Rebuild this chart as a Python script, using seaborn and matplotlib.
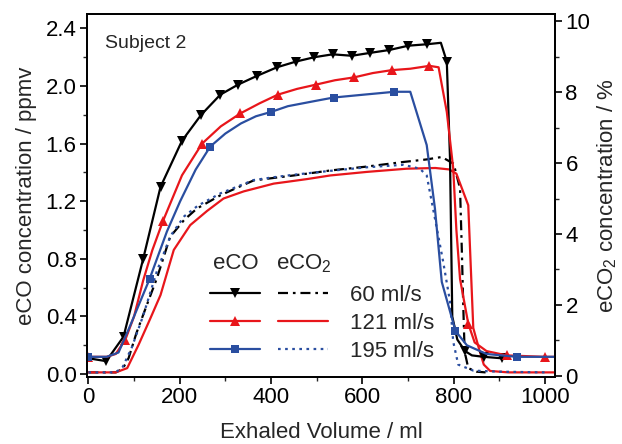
"""eCO and eCO2 exhalation profiles at three flow rates (Subject 2)."""

import matplotlib
matplotlib.use("Agg")
import matplotlib.pyplot as plt
from matplotlib.lines import Line2D
from matplotlib.legend_handler import HandlerTuple
from matplotlib.ticker import MultipleLocator, FormatStrFormatter
import seaborn as sns

sns.set_style("ticks")
plt.rcParams["font.family"] = ["Liberation Sans", "DejaVu Sans"]
plt.rcParams["mathtext.fontset"] = "custom"
plt.rcParams["mathtext.rm"] = "Liberation Sans"

BLACK, RED, BLUE = "#000000", "#e8161b", "#2a4ea0"
FS = 16

# ---- eCO (ppmv), left axis ------------------------------------------------
co60_x = [0, 39, 77, 120, 158, 205, 247, 289, 328, 369, 413, 455, 495, 535,
          577, 617, 659, 701, 742, 772, 785, 792, 797, 808, 825, 840, 866,
          905, 920]
co60_y = [0.11, 0.09, 0.26, 0.80, 1.30, 1.62, 1.80, 1.94, 2.01, 2.07, 2.13,
          2.17, 2.20, 2.22, 2.21, 2.23, 2.25, 2.28, 2.29, 2.30, 2.17, 1.50,
          0.40, 0.24, 0.16, 0.13, 0.12, 0.11, 0.11]
co60_marks = [1, 2, 3, 4, 5, 6, 7, 8, 9, 10, 11, 12, 13, 14, 15, 16, 17, 18,
              20, 24, 26, 27]

co121_x = [0, 40, 60, 81, 100, 120, 140, 163, 205, 249, 290, 333, 375, 415,
           457, 499, 540, 582, 623, 664, 705, 747, 767, 785, 799, 806, 814,
           832, 846, 872, 916, 1000, 1022]
co121_y = [0.12, 0.12, 0.14, 0.24, 0.40, 0.65, 0.86, 1.06, 1.38, 1.60, 1.72,
           1.81, 1.88, 1.94, 1.98, 2.01, 2.04, 2.06, 2.09, 2.11, 2.12, 2.14,
           2.13, 1.82, 1.43, 1.00, 0.66, 0.35, 0.22, 0.16, 0.13, 0.12, 0.12]
co121_marks = [0, 3, 7, 9, 11, 13, 15, 17, 19, 21, 27, 30, 31]

co195_x = [0, 40, 66, 92, 134, 172, 201, 235, 267, 300, 334, 367, 400, 437,
           470, 503, 537, 570, 603, 637, 670, 705, 741, 759, 774, 804, 829,
           872, 938, 1022]
co195_y = [0.12, 0.12, 0.15, 0.34, 0.66, 0.99, 1.20, 1.42, 1.58, 1.67, 1.74,
           1.79, 1.82, 1.86, 1.88, 1.90, 1.92, 1.93, 1.94, 1.95, 1.96, 1.96,
           1.59, 1.15, 0.64, 0.30, 0.20, 0.14, 0.12, 0.12]
co195_marks = [0, 4, 8, 12, 16, 20, 25, 28]

# ---- eCO2 (%), right axis -------------------------------------------------
co2_60_x = [0, 60, 75, 88, 105, 128, 150, 179, 210, 238, 289, 325, 362, 406,
            450, 490, 530, 610, 690, 740, 774, 800, 814, 818, 821, 824, 832,
            850, 870]
co2_60_y = [0.10, 0.10, 0.20, 0.50, 1.20, 2.00, 2.75, 3.92, 4.40, 4.72, 5.09,
            5.30, 5.51, 5.58, 5.65, 5.72, 5.79, 5.90, 6.03, 6.10, 6.17, 5.98,
            5.28, 3.50, 2.00, 0.69, 0.22, 0.12, 0.10]

co2_121_x = [0, 60, 85, 110, 135, 158, 187, 223, 260, 296, 340, 406, 435,
             480, 530, 610, 697, 760, 790, 806, 832, 843, 855, 866, 880, 920,
             1022]
co2_121_y = [0.10, 0.10, 0.22, 0.88, 1.60, 2.28, 3.55, 4.25, 4.65, 5.00,
             5.20, 5.42, 5.47, 5.55, 5.65, 5.75, 5.84, 5.86, 5.82, 5.70, 4.81,
             1.35, 0.79, 0.32, 0.14, 0.10, 0.10]

co2_195_x = [0, 60, 75, 95, 120, 150, 180, 210, 240, 290, 362, 406, 450, 530,
             610, 690, 726, 741, 759, 777, 792, 799, 810, 843, 900, 1000]
co2_195_y = [0.10, 0.10, 0.25, 0.80, 1.70, 2.95, 3.95, 4.50, 4.80, 5.15,
             5.52, 5.60, 5.67, 5.78, 5.88, 5.95, 5.84, 5.65, 4.44, 3.22, 2.10,
             0.97, 0.32, 0.15, 0.12, 0.10]

flow_labels = ["60 ml/s", "121 ml/s", "195 ml/s"]
colors = [BLACK, RED, BLUE]
co_markers = ["v", "^", "s"]
co_msizes = [7, 7, 5.5]
co2_styles = [(0, (4.5, 2.2, 1.2, 2.2)), "-", (0, (1.2, 2.0))]

fig = plt.figure(figsize=(6.22, 4.44), dpi=100)
ax = fig.add_axes([0.1399, 0.1509, 0.7524, 0.8176])
ax2 = ax.twinx()

co_series = [(co60_x, co60_y, co60_marks), (co121_x, co121_y, co121_marks),
             (co195_x, co195_y, co195_marks)]
co2_series = [(co2_60_x, co2_60_y), (co2_121_x, co2_121_y),
              (co2_195_x, co2_195_y)]

for (x, y), c, ls in zip(co2_series, colors, co2_styles):
    sns.lineplot(x=x, y=y, ax=ax2, color=c, lw=1.6, linestyle=ls,
                 estimator=None, sort=False)

for (x, y, mk), c, m, ms in zip(co_series, colors, co_markers, co_msizes):
    sns.lineplot(x=x, y=y, ax=ax2, color=c, lw=1.6, marker=m, markersize=ms,
                 markeredgewidth=0, markevery=mk, estimator=None, sort=False,
                 transform=ax.transData)

ax.set_xlim(-3, 1022)
ax.set_ylim(-0.02, 2.5)
ax2.set_ylim(-0.03, 10.2)

ax.xaxis.set_major_locator(MultipleLocator(200))
ax.xaxis.set_minor_locator(MultipleLocator(100))
ax.yaxis.set_major_locator(MultipleLocator(0.4))
ax.yaxis.set_minor_locator(MultipleLocator(0.2))
ax.yaxis.set_major_formatter(FormatStrFormatter("%.1f"))
ax2.yaxis.set_major_locator(MultipleLocator(2))
ax2.yaxis.set_minor_locator(MultipleLocator(1))

for a in (ax, ax2):
    for s in a.spines.values():
        s.set_linewidth(1.3)
        s.set_color("black")
    a.tick_params(which="major", direction="out", length=5, width=1.2,
                  labelsize=FS, colors="black", pad=2.5)
    a.tick_params(which="minor", direction="out", length=3, width=1.0)
    a.grid(False)
ax.tick_params(axis="y", which="both", right=False)

ax.set_xlabel("Exhaled Volume / ml", fontsize=FS, labelpad=10)
ax.set_ylabel("eCO concentration / ppmv", fontsize=FS, labelpad=6)
ax2.set_ylabel("eCO$_2$ concentration / %", fontsize=FS, labelpad=4)

ax.text(0.038, 0.92, "Subject 2", transform=ax.transAxes, fontsize=14,
        va="center", ha="left")

handles = []
for c, m, ms, ls in zip(colors, co_markers, co_msizes, co2_styles):
    h_co = Line2D([], [], color=c, lw=1.6, marker=m, markersize=ms,
                  markeredgewidth=0)
    h_co2 = Line2D([], [], color=c, lw=1.6, linestyle=ls)
    handles.append((h_co, h_co2))

fs_px = FS * 100 / 72
leg = ax2.legend(handles, flow_labels, loc="upper left",
                 bbox_to_anchor=(0.244, 0.278), frameon=False, fontsize=FS,
                 handlelength=118 / fs_px, handletextpad=22 / fs_px,
                 labelspacing=0.31, borderpad=0.4, numpoints=1,
                 borderaxespad=0,
                 handler_map={tuple: HandlerTuple(ndivide=None,
                                                  pad=18 / fs_px)})

ax2.text(0.318, 0.313, "eCO", transform=ax.transAxes, fontsize=FS,
         ha="center", va="center")
ax2.text(0.464, 0.313, "eCO$_2$", transform=ax.transAxes, fontsize=FS,
         ha="center", va="center")

fig.savefig("out.png", dpi=100)
